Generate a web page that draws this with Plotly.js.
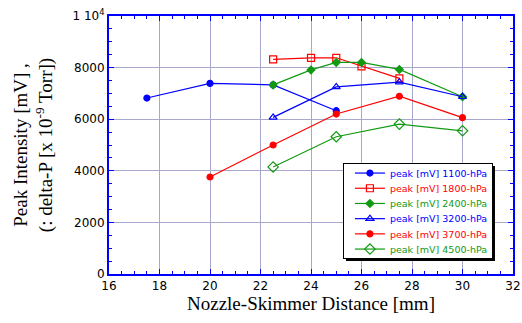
<!DOCTYPE html>
<html><head><meta charset="utf-8">
<script src="https://cdn.plot.ly/plotly-3.0.1.min.js"></script>
<style>body{margin:0;background:#fff}</style>
</head><body>
<div id="chart" style="width:522px;height:323px"></div>
<script>
const seriesNames = ["peak [mV] 1100-hPa","peak [mV] 1800-hPa","peak [mV] 2400-hPa","peak [mV] 3200-hPa","peak [mV] 3700-hPa","peak [mV] 4500-hPa"];
const x1100 = [17.5, 20, 22.5, 25];
const y1100 = [6820, 7390, 7330, 6330];
const x1800 = [22.5, 24, 25, 26, 27.5];
const y1800 = [8320, 8380, 8380, 8050, 7580];
const x2400 = [22.5, 24, 25, 26, 27.5, 30];
const y2400 = [7330, 7910, 8200, 8200, 7930, 6870];
const x3200 = [22.5, 25, 27.5, 30];
const y3200 = [6070, 7250, 7440, 6870];
const x3700 = [20, 22.5, 25, 27.5, 30];
const y3700 = [3760, 5000, 6200, 6890, 6060];
const x4500 = [22.5, 25, 27.5, 30];
const y4500 = [4150, 5320, 5810, 5550];
const yTickVals = [0, 2000, 4000, 6000, 8000, 10000];
const yTickText = ["0", "2000", "4000", "6000", "8000", "1 10<sup>4</sup>"];

const BLUE = "#0000ff", RED = "#ff0000", GREEN = "#119a11";
function tr(x, y, name, color, sym, size) {
  return {x: x, y: y, name: name, type: "scatter", mode: "lines+markers",
    line: {color: color, width: 1.2},
    marker: {color: color, symbol: sym, size: size, line: {color: color, width: 1.2}}};
}
const data = [
  tr(x1100, y1100, seriesNames[0], BLUE, "circle", 6),
  tr(x1800, y1800, seriesNames[1], RED, "square-open", 7),
  tr(x2400, y2400, seriesNames[2], GREEN, "diamond", 6),
  tr(x3200, y3200, seriesNames[3], BLUE, "triangle-up-open", 7),
  tr(x3700, y3700, seriesNames[4], RED, "circle", 6),
  tr(x4500, y4500, seriesNames[5], GREEN, "diamond-open", 8)
];
const TICKFONT = {size: 12, family: "DejaVu Sans, Verdana, sans-serif", color: "#000"};
const SERIF = "Liberation Serif, Times New Roman, serif";
const layout = {
  width: 522, height: 323,
  margin: {l: 109, r: 9, t: 16, b: 49},
  paper_bgcolor: "#fff", plot_bgcolor: "#fff",
  showlegend: true,
  font: {family: "DejaVu Sans, Verdana, sans-serif", color: "#000"},
  xaxis: {
    range: [16, 32], tickvals: [16,18,20,22,24,26,28,30,32],
    ticks: "inside", ticklen: 5, tickwidth: 1, tickcolor: BLUE,
    minor: {dtick: 0.5, ticks: "inside", ticklen: 3, tickcolor: BLUE, showgrid: false},
    showline: true, linecolor: BLUE, linewidth: 2, mirror: "allticks",
    showgrid: true, gridcolor: "#a8a8cc", gridwidth: 1, zeroline: false,
    tickfont: TICKFONT,
    title: {text: "Nozzle-Skimmer Distance [mm]", font: {family: SERIF, size: 19}, standoff: 2}
  },
  yaxis: {
    range: [0, 10000], tickvals: yTickVals, ticktext: yTickText,
    ticks: "inside", ticklen: 5, tickwidth: 1, tickcolor: BLUE,
    minor: {dtick: 500, ticks: "inside", ticklen: 3, tickcolor: BLUE, showgrid: false},
    showline: true, linecolor: BLUE, linewidth: 2, mirror: "allticks",
    showgrid: true, gridcolor: "#a8a8cc", gridwidth: 1, zeroline: false,
    tickfont: TICKFONT,
    title: {text: "Peak Intensity [mV] ,<br>(: delta-P [x 10<sup>-9</sup> Torr])", font: {family: SERIF, size: 19}, standoff: 15}
  },
  legend: {
    x: 0.579, y: 0.430, xanchor: "left", yanchor: "top",
    bgcolor: "#fff", bordercolor: "#000", borderwidth: 1,
    font: {size: 9.5, family: "DejaVu Sans, Verdana, sans-serif"},
    tracegroupgap: 0, itemwidth: 30
  },
  shapes: [{type: "rect", xref: "paper", yref: "paper", x0: 0.5866, x1: 0.9554, y0: 0.0504, y1: 0.4186,
    fillcolor: "#000", line: {width: 0}, layer: "above"}]
};
Plotly.newPlot("chart", data, layout, {displayModeBar: false, staticPlot: true}).then(function(gd){
  const cols = [BLUE, RED, GREEN, BLUE, RED, GREEN];
  const items = gd.querySelectorAll(".legend .traces");
  items.forEach(function(el, i){
    const t = el.querySelector("text.legendtext");
    if (t) t.style.fill = cols[i];
    el.setAttribute("transform", "translate(7," + (10 + i * 15.2) + ")");
  });
  const bg = gd.querySelector(".legend rect.bg");
  if (bg) { bg.setAttribute("width", 149); bg.setAttribute("height", 95); }
  const sb = gd.querySelector(".legend .scrollbox");
  if (sb) sb.setAttribute("transform", "translate(0,0)");
  const clip = gd.querySelector("defs clipPath[id^=legend] rect");
  if (clip) { clip.setAttribute("width", 149); clip.setAttribute("height", 95); }
});
</script>
</body></html>
